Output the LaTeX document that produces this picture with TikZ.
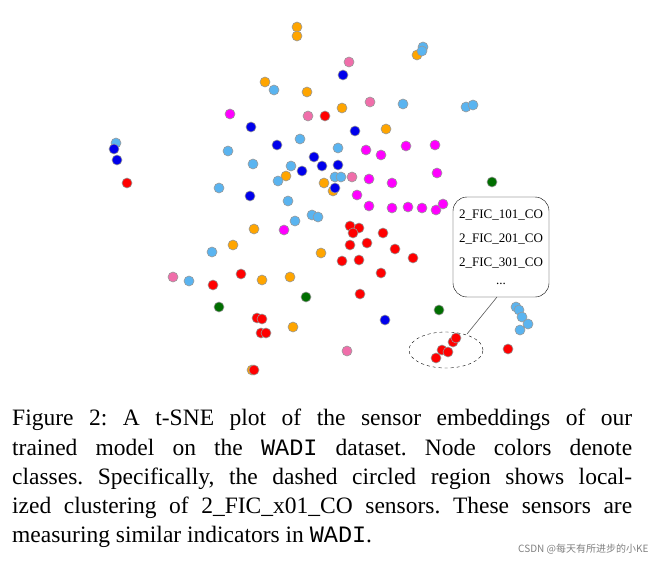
\documentclass[tikz,border=0pt]{standalone}
\usepackage{fontspec}
\usetikzlibrary{shapes.geometric}
\setmainfont{Liberation Serif}
\setmonofont{Liberation Mono}
\newfontfamily\cjk{Noto Sans CJK SC}
\definecolor{clb}{RGB}{90,180,240}
\definecolor{cor}{RGB}{255,165,0}
\definecolor{cmg}{RGB}{255,0,255}
\definecolor{cpk}{RGB}{240,110,170}
\definecolor{cbl}{RGB}{0,0,235}
\definecolor{crd}{RGB}{255,0,0}
\definecolor{cgr}{RGB}{0,110,0}
\tikzset{dot/.style={draw=gray!80,line width=0.6pt,fill=#1}}
\newcommand{\putdots}[2]{\foreach \p in {#2}{\fill[dot=#1] \p circle (5);}}
\begin{document}
\frenchspacing
\begin{tikzpicture}[x=1pt,y=-1pt]
\useasboundingbox (0,0) rectangle (661,564);
\putdots{cor}{(297,27),(297,36),(265,82),(307,92),(417,55),(342,108),(386,129),(286,176),(324,183),(333,191),(254,229),(233,245),(321,253),(262,280),(290,277),(293,327),(252,370)}
\putdots{clb}{(274,90),(300,139),(228,151),(253,164),(291,166),(278,181),(219,188),(116,143),(423,47),(422,51),(403,104),(466,107),(473,105),(338,148),(335,177),(341,177),(288,201),(295,221),(312,215),(318,217),(212,252),(189,281),(516,307),(519,310),(522,317),(528,324),(520,330)}
\putdots{cpk}{(308,116),(349,62),(370,102),(352,177),(173,277),(347,351)}
\putdots{cmg}{(230,114),(366,150),(381,155),(406,146),(435,145),(369,179),(392,183),(437,173),(357,195),(369,206),(392,208),(408,207),(422,208),(436,210),(443,204),(284,230)}
\putdots{cbl}{(251,127),(277,145),(314,157),(302,171),(250,196),(114,149),(117,160),(343,75),(355,131),(322,166),(338,165),(335,188),(385,320)}
\putdots{crd}{(127,183),(325,116),(350,226),(359,228),(353,233),(383,233),(350,245),(367,243),(342,261),(359,260),(381,273),(395,249),(360,294),(413,258),(241,274),(213,285),(257,318),(262,319),(261,333),(266,333),(254,370),(508,349),(436,358),(442,350),(448,352),(453,342),(456,338)}
\putdots{cgr}{(492,182),(306,297),(219,307),(439,310)}
\node[draw,dashed,ellipse,minimum width=74,minimum height=36,inner sep=0] (ell) at (446,350) {};
\node[draw,rounded corners=14pt,minimum width=96,minimum height=100,font=\fontsize{13}{24}\selectfont,align=center,inner sep=1pt] (box) at (501,247)
 {2\_FIC\_101\_CO\\2\_FIC\_201\_CO\\2\_FIC\_301\_CO\\[-6pt]...};
\coordinate (lp) at (467,334);
\draw[gray!70!black,line width=0.6pt] (lp) -- (497,297);
\node[anchor=north west,text width=620pt,align=justify,inner sep=0,font=\fontsize{23.5}{29.3}\selectfont] (cap) at (12,409)
 {Figure 2: A t-SNE plot of the sensor embeddings of our\linebreak trained model on the \texttt{WADI} dataset. Node colors denote\linebreak classes. Specifically, the dashed circled region shows local-\linebreak ized clustering of 2\_FIC\_x01\_CO sensors. These sensors are\linebreak measuring similar indicators in \texttt{WADI}.};
\node[anchor=east,font=\cjk\fontsize{10}{12}\selectfont,text=gray] (wm) at (652,549) {CSDN @每天有所进步的小KE};
\end{tikzpicture}
\end{document}
